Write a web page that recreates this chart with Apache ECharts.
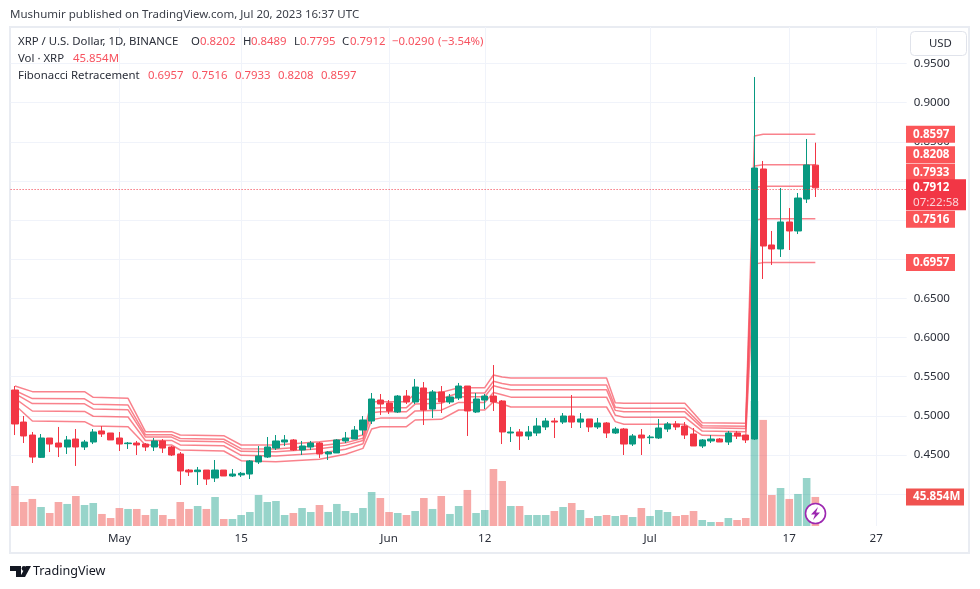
<!DOCTYPE html>
<html><head><meta charset="utf-8">
<style>html,body{margin:0;padding:0;background:#fff}#c{width:980px;height:589px}</style>
<script src="https://cdn.jsdelivr.net/npm/echarts@6/dist/echarts.min.js"></script>
</head><body><div id="c"></div>
<script>
const FONT = '"Noto Sans", sans-serif';
const opens = [.5330,.4921,.4755,.4470,.4717,.4653,.4602,.4704,.4602,.4666,.4807,.4781,.4717,.4645,.4653,.4640,.4602,.4679,.4602,.4513,.4308,.4287,.4308,.4206,.4308,.4232,.4245,.4257,.4411,
.4474,.4589,.4666,.4692,.4564,.4602,.4653,.4513,.4526,.4679,.4704,.4819,.4934,.5202,.5164,.5049,.5253,.5177,.5356,.5087,.5305,.5177,.5228,.5381,.5049,.5202,.5253,.5190,
.4781,.4794,.4743,.4781,.4858,.4934,.4921,.4998,.4921,.4960,.4858,.4909,.4781,.4832,.4640,.4755,.4721,.4717,.4832,.4896,.4870,.4768,.4615,.4679,.4704,.4666,.4781,.4755,
.4704,.8153,.7182,.7131,.7476,.7361,.7769,.8202];
const highs = [.5381,.4998,.4794,.4768,.4717,.4858,.4743,.4832,.4692,.4832,.4870,.4781,.4794,.4666,.4679,.4653,.4717,.4704,.4615,.4538,.4321,.4347,.4308,.4436,.4308,.4321,.4283,.4436,.4615,
.4730,.4755,.4755,.4704,.4679,.4679,.4666,.4551,.4704,.4794,.4870,.4998,.5292,.5279,.5202,.5266,.5330,.5471,.5432,.5330,.5381,.5279,.5420,.5381,.5292,.5279,.5649,.5202,
.4858,.4832,.4870,.4973,.4973,.4973,.5036,.5266,.5036,.4960,.4973,.4921,.4858,.4845,.4768,.4832,.4755,.4960,.4921,.4934,.4921,.4845,.4704,.4755,.4717,.4807,.4807,.4755,
.9327,.8255,.7361,.7910,.7654,.7846,.8536,.8489];
const lows = [.4755,.4653,.4398,.4462,.4538,.4474,.4513,.4360,.4564,.4640,.4730,.4692,.4551,.4577,.4500,.4551,.4551,.4526,.4487,.4117,.4232,.4117,.4117,.4155,.4232,.4219,.4219,.4193,.4385,
.4462,.4564,.4615,.4551,.4500,.4564,.4462,.4436,.4526,.4653,.4704,.4755,.4896,.5011,.5024,.5036,.5151,.5151,.4883,.4973,.5036,.5151,.5202,.4743,.5036,.5087,.5062,.4640,
.4666,.4564,.4692,.4743,.4819,.4717,.4896,.4845,.4845,.4794,.4832,.4717,.4768,.4500,.4615,.4500,.4640,.4704,.4794,.4819,.4704,.4615,.4589,.4653,.4666,.4628,.4704,.4653,
.4692,.6748,.6927,.7029,.7118,.7322,.7718,.7795];
const closes = [.4896,.4743,.4474,.4717,.4640,.4602,.4692,.4602,.4666,.4794,.4768,.4692,.4640,.4653,.4628,.4602,.4679,.4589,.4500,.4296,.4283,.4308,.4193,.4308,.4232,.4257,.4266,.4423,.4487,
.4602,.4679,.4692,.4564,.4615,.4653,.4513,.4538,.4692,.4717,.4819,.4947,.5215,.5151,.5062,.5253,.5177,.5368,.5075,.5305,.5177,.5241,.5381,.5062,.5215,.5253,.5177,.4794,
.4794,.4743,.4794,.4870,.4934,.4921,.4998,.4921,.4960,.4858,.4909,.4781,.4832,.4640,.4743,.4717,.4730,.4845,.4896,.4858,.4755,.4615,.4692,.4704,.4666,.4781,.4743,.4692,
.8165,.7169,.7131,.7476,.7361,.7782,.8204,.7912];
const volumes = [63.2,37.9,42.7,30,20.5,37.9,34.8,47.4,33.2,36.3,19,12.6,28.4,26.9,26.9,17.4,26.9,17.4,11.1,37.9,26.9,31.6,26.9,45.8,11.1,11.1,17.4,22.1,49,
37.9,39.5,17.4,20.5,28.4,22.1,33.2,22.1,34.8,23.7,20.5,28.4,53.7,44.2,22.1,20.5,17.4,23.7,44.2,26.9,47.4,19,31.6,56.9,20.5,25.3,90,71.1,31.6,
31.6,17.4,17.4,17.4,23.7,30,36.3,25.3,12.6,15.8,17.4,15.8,17.4,14.2,28.4,15.8,25.3,22.1,15.8,17.4,23.7,9.5,6.3,6.3,12.6,9.5,12.6,
197.5,167.5,49,60,42.7,50.6,75.8,45.854];
// knots of the retracement lines: candle number and the five levels
const fibKnots = [0,2,8,9,13,15,18,19,24,26,30,35,38,40,41,42,45,46,49,51,54,55,56,57,68,69,70,77,79,84,85,86,92];
const fibLevelA = [.5381,.5309,.5309,.5236,.5224,.4798,.4798,.4755,.4747,.4628,.4628,.4670,.4700,.4755,.5181,.5181,.5181,.5288,.5300,.5360,.5360,.5522,.5496,.5483,.5483,.5168,.5160,.5160,.4913,.4904,.8575,.8597,.8597];
const fibLevelB = [.5324,.5220,.5218,.5149,.5138,.4758,.4758,.4710,.4701,.4581,.4578,.4617,.4655,.4715,.5098,.5105,.5105,.5207,.5218,.5292,.5292,.5441,.5414,.5395,.5395,.5111,.5096,.5096,.4875,.4866,.8190,.8208,.8208];
const fibLevelC = [.5283,.5157,.5154,.5088,.5077,.4729,.4729,.4678,.4668,.4547,.4542,.4579,.4623,.4686,.5040,.5052,.5052,.5150,.5161,.5245,.5245,.5384,.5356,.5333,.5333,.5070,.5051,.5051,.4847,.4839,.7917,.7933,.7933];
const fibLevelD = [.5222,.5062,.5057,.4995,.4985,.4686,.4686,.4629,.4618,.4496,.4488,.4522,.4574,.4643,.4951,.4971,.4971,.5063,.5073,.5172,.5172,.5297,.5269,.5239,.5239,.5009,.4983,.4983,.4806,.4798,.7497,.7516,.7516];
const fibLevelE = [.5139,.4934,.4926,.4870,.4862,.4628,.4628,.4564,.4551,.4428,.4415,.4445,.4509,.4585,.4832,.4862,.4862,.4947,.4956,.5075,.5075,.5181,.5151,.5113,.5113,.4926,.4892,.4892,.4751,.4743,.6939,.6957,.6957];
const fibEnd = [.8597,.8208,.7933,.7516,.6957];
const tagNudge = [0,-10,-14,0.5,0];
const lastPrice = .7912, lastVolume = 45.854;
const tickLabels = {12:'May',26:'15',43:'Jun',54:'12',73:'Jul',89:'17',99:'27'};
const categories = []; for (let i=0;i<103;i++) categories.push('d'+i);

const UP='#089981', DOWN='#f23645', FIB='#f7525f', TAG='#fb5558';
const candleData = opens.map((o,i)=>[o,closes[i],lows[i],highs[i]]);
const volData = volumes.map((v,i)=>({value:v,itemStyle:{color:closes[i]>=opens[i]?'rgba(8,153,129,0.42)':'rgba(240,83,80,0.5)'}}));
const fibSeries = [fibLevelA,fibLevelB,fibLevelC,fibLevelD,fibLevelE].map(l=>({
  type:'line',xAxisIndex:0,yAxisIndex:0,symbol:'none',silent:true,z:3,
  lineStyle:{color:FIB,width:1.5,opacity:.72},
  data:fibKnots.map((k,j)=>[k,l[j]])
}));
function text(t,x,y,fill,size,extra){return Object.assign({type:'text',silent:true,z:100,style:{text:t,x:x,y:y,fill:fill,font:(size||12)+'px '+FONT,textVerticalAlign:'middle'}},extra||{});}
const DARK='#2a2e39', RED='#f7525f';
const graphics=[
 {type:'rect',z:0,silent:true,shape:{x:10,y:27,width:959,height:526},style:{fill:'none',stroke:'#e9ecf2',lineWidth:2}},
 text('Mushumir published on TradingView.com, Jul 20, 2023 16:37 UTC',10,15,'#3c404a',11.5),
 text('XRP / U.S. Dollar, 1D, BINANCE',18,42,DARK,11.4),
 text('O',191,42,DARK,11.4),text('0.8202',200,42,RED,11.4),
 text('H',243,42,DARK,11.4),text('0.8489',251,42,RED,11.4),
 text('L',294,42,DARK,11.4),text('0.7795',300,42,RED,11.4),
 text('C',342,42,DARK,11.4),text('0.7912',350,42,RED,11.4),
 text('−0.0290',392,42,RED,11.4),text('(−3.54%)',438,42,RED,11.4),
 text('Vol · XRP',18,59,DARK,11.4),text('45.854M',73,59,RED,11.4),
 text('Fibonacci Retracement',18,76,DARK,11.4),
 text('0.6957',148,76,RED,11.4),text('0.7516',192,76,RED,11.4),text('0.7933',235,76,RED,11.4),text('0.8208',278,76,RED,11.4),text('0.8597',321,76,RED,11.4),
 {type:'rect',silent:true,z:100,shape:{x:910.5,y:31.5,width:56,height:24,r:4},style:{fill:'#fff',stroke:'#e0e3eb',lineWidth:1}},
 text('USD',929,44,DARK,11.4),
 {type:'circle',silent:true,z:100,shape:{cx:815.5,cy:513.5,r:10},style:{fill:'#fff',stroke:'#9c27b0',lineWidth:1.6}},
 {type:'polygon',silent:true,z:101,shape:{points:[[818,507],[811,514.5],[815,514.5],[813,520],[820,512.5],[816,512.5]]},style:{fill:'#9c27b0'}},
 {type:'polygon',silent:true,z:100,shape:{points:[[10,566],[21,566],[21,577],[16,577],[16,571],[10,571]]},style:{fill:'#131722'}},
 {type:'circle',silent:true,z:100,shape:{cx:24,cy:568.5,r:2.4},style:{fill:'#131722'}},
 {type:'polygon',silent:true,z:100,shape:{points:[[26,566],[31,566],[25,577],[20,577]]},style:{fill:'#131722'}},
 text('TradingView',33,571.5,'#131722',12.6)
];
const option={
 animation:false,backgroundColor:'#fff',textStyle:{fontFamily:FONT},
 grid:[{left:10.6,width:896.1,top:24.35,height:508.95,show:false},{left:10.6,width:896.1,top:27,height:499,show:false}],
 xAxis:[
  {type:'category',gridIndex:0,data:categories,show:false},
  {type:'category',gridIndex:1,data:categories,axisLine:{show:false},axisTick:{show:false},
   axisLabel:{interval:i=>tickLabels[i]!==undefined,formatter:(v,i)=>tickLabels[i]||'',color:'#2a2e39',fontSize:11.6,margin:7,fontFamily:FONT},
   splitLine:{show:true,alignWithLabel:true,interval:i=>tickLabels[i]!==undefined,lineStyle:{color:'#f0f3fa',width:1}}}
 ],
 yAxis:[
  {type:'value',gridIndex:0,position:'right',min:.35,max:1,interval:.05,axisLine:{show:false},axisTick:{show:false},
   axisLabel:{color:'#2a2e39',fontSize:11.6,margin:7,fontFamily:FONT,showMinLabel:false,showMaxLabel:false,formatter:v=>v.toFixed(4)},
   splitLine:{show:true,showMinLine:false,showMaxLine:false,lineStyle:{color:'#f0f3fa',width:1}}},
  {type:'value',gridIndex:1,min:0,max:788,show:false,splitLine:{show:false}}
 ],
 graphic:{elements:graphics},
 series:[
  {type:'bar',xAxisIndex:1,yAxisIndex:1,data:volData,barWidth:7.6,silent:true,z:1},
  ...fibSeries,
  {type:'candlestick',xAxisIndex:0,yAxisIndex:0,data:candleData,barWidth:6.6,silent:true,z:4,
   itemStyle:{color:UP,color0:DOWN,borderColor:UP,borderColor0:DOWN,borderWidth:1},
   markLine:{silent:true,symbol:'none',label:{show:false},data:[{yAxis:lastPrice,lineStyle:{color:DOWN,type:[1,2],width:1,opacity:1}}]}},
  {type:'custom',xAxisIndex:0,yAxisIndex:0,z:60,silent:true,clip:false,
   data:[[92,lastPrice]],
   renderItem:(params,api)=>{
     const x=906, cat=api.value(0);
     const kids=[];
     fibEnd.forEach((p,n)=>{
       const y=api.coord([cat,p])[1]+tagNudge[n];
       kids.push({type:'rect',shape:{x:x,y:y-8.5,width:49,height:17},style:{fill:TAG}});
       kids.push({type:'text',style:{x:x+7,y:y,text:p.toFixed(4),fill:'#fff',font:'bold 11.6px '+FONT,textVerticalAlign:'middle'}});
     });
     const y=api.coord([cat,api.value(1)])[1];
     kids.push({type:'rect',shape:{x:x,y:y-8.5,width:60,height:31},style:{fill:DOWN}});
     kids.push({type:'text',style:{x:x+7,y:y,text:api.value(1).toFixed(4),fill:'#fff',font:'bold 11.6px '+FONT,textVerticalAlign:'middle'}});
     kids.push({type:'text',style:{x:x+7,y:y+15,text:'07:22:58',fill:'#fbd3d7',font:'11.6px '+FONT,textVerticalAlign:'middle'}});
     return {type:'group',children:kids};
   }},
  {type:'custom',xAxisIndex:1,yAxisIndex:1,z:50,silent:true,clip:false,
   data:[[92,lastVolume]],
   renderItem:(params,api)=>{
     const y=api.coord([api.value(0),api.value(1)])[1];
     const x=906;
     return {type:'group',children:[
       {type:'rect',shape:{x:x,y:y-8.5,width:58,height:17},style:{fill:'#f0524f'}},
       {type:'text',style:{x:x+7,y:y,text:api.value(1).toFixed(3)+'M',fill:'#fff',font:'bold 11.6px '+FONT,textVerticalAlign:'middle'}}
     ]};
   }}
 ]
};
echarts.init(document.getElementById('c'),null,{renderer:'canvas'}).setOption(option);
</script></body></html>
